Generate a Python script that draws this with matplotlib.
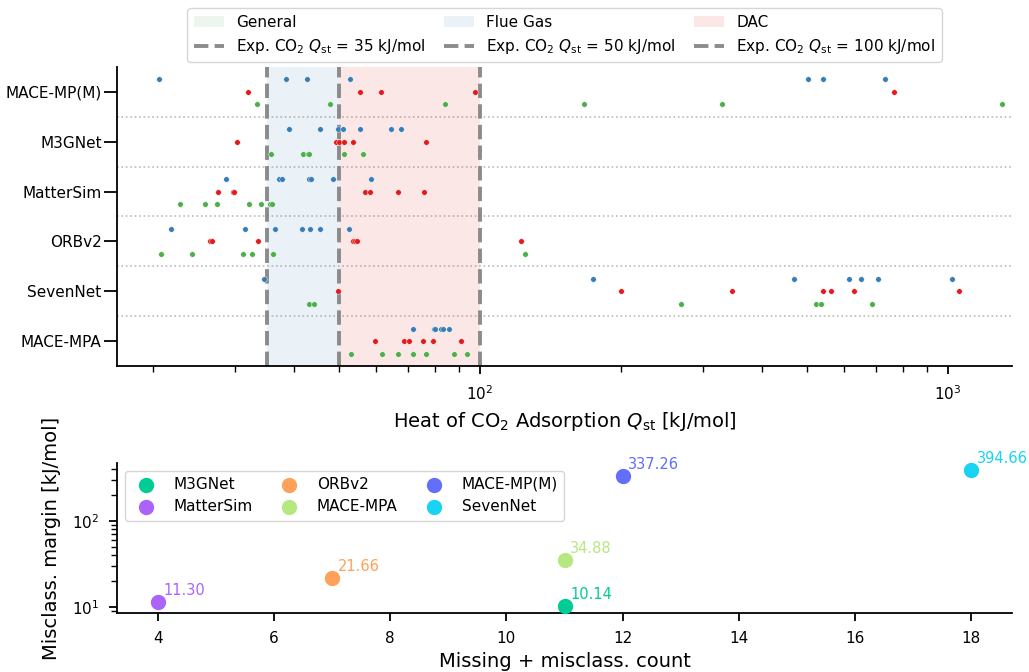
import numpy as np
import matplotlib.pyplot as plt
from matplotlib.patches import Patch
from matplotlib.lines import Line2D

# Models shown in the strip plot (top to bottom)
models = ["MACE-MP(M)", "M3GNet", "MatterSim", "ORBv2", "SevenNet", "MACE-MPA"]

# Predicted Qst [kJ/mol] per model, split by application group
qst_flue = [
    [20.6, 38.5, 42.7, 52.8, 502, 541, 733],
    [39.1, 45.6, 49.6, 51.0, 55.5, 64.5, 67.7],
    [28.7, 37.1, 37.7, 43.0, 43.6, 48.6, 58.5],
    [21.9, 31.4, 36.4, 41.7, 43.3, 45.4, 52.5],
    [34.6, 174.1, 468, 613, 651, 707, 1021],
    [71.8, 79.9, 80.1, 82.5, 83.5, 85.7],
]
qst_dac = [
    [31.9, 55.4, 61.4, 97.6, 766],
    [30.3, 49.3, 49.9, 51.3, 53.6, 76.8],
    [27.6, 29.6, 29.8, 56.9, 58.3, 66.9, 75.9],
    [26.5, 26.7, 33.5, 53.5, 54.1, 54.5, 122.2],
    [49.6, 200, 345, 541, 563, 630, 1057],
    [59.6, 68.7, 70.5, 75.6, 79.5, 91.1],
]
qst_general = [
    [33.4, 47.8, 84.2, 166.8, 328.9, 1304],
    [35.8, 41.8, 42.8, 43.0, 51.3, 56.2],
    [22.9, 25.9, 27.4, 32.1, 34.0, 35.5, 36.0],
    [20.8, 24.2, 31.2, 32.6, 36.1, 125.0],
    [43.0, 44.2, 269, 521, 535, 688],
    [53.1, 61.7, 66.7, 72.0, 76.6, 88.1, 93.7],
]
exp_qst = [35, 50, 100]

# Summary per model
sum_models = ["M3GNet", "MatterSim", "ORBv2", "MACE-MPA", "MACE-MP(M)", "SevenNet"]
miss_count = [11, 4, 7, 11, 12, 18]
margin = [10.14, 11.30, 21.66, 34.88, 337.26, 394.66]
sum_colors = ["#00CC96", "#AB63FA", "#FFA15A", "#B6E880", "#636EFA", "#19D3F3"]

c_flue, c_dac, c_gen = "#377eb8", "#e41a1c", "#4daf4a"

plt.rcParams["axes.linewidth"] = 1.3
plt.rcParams["xtick.major.width"] = 1.3
plt.rcParams["ytick.major.width"] = 1.3
plt.rcParams["xtick.minor.width"] = 1.0
plt.rcParams["ytick.minor.width"] = 1.0

fig = plt.figure(figsize=(10.29, 6.72), dpi=100)
ax1 = fig.add_axes([0.1137, 0.4554, 0.8698, 0.4449])
ax2 = fig.add_axes([0.1137, 0.0878, 0.8698, 0.2232])

# --- top: strip plot ---
ax1.axvspan(35, 50, color=c_flue, alpha=0.1, lw=0)
ax1.axvspan(50, 100, color=c_dac, alpha=0.1, lw=0)
for v in exp_qst:
    ax1.axvline(v, color="gray", ls="--", lw=2.8, alpha=0.9, zorder=1)

for i in range(len(models)):
    for vals, col, off in [(qst_flue[i], c_flue, -0.25), (qst_dac[i], c_dac, 0.0),
                           (qst_general[i], c_gen, 0.25)]:
        ax1.scatter(vals, np.full(len(vals), i + off), s=16, color=col,
                    edgecolors="white", linewidths=0.3, zorder=3)
for i in range(len(models) - 1):
    ax1.axhline(i + 0.5, color="#bbbbbb", ls=":", lw=1.2, zorder=0)

ax1.set_xscale("log")
ax1.set_xlim(16.76, 1370)
ax1.set_ylim(len(models) - 0.5, -0.5)
ax1.set_yticks(range(len(models)))
ax1.set_yticklabels(models, fontsize=11)
ax1.tick_params(axis="y", length=9.5, pad=1.5)
ax1.tick_params(axis="x", which="major", labelsize=11, length=6, pad=7)
ax1.tick_params(axis="x", which="minor", length=4)
ax1.set_xlabel(r"Heat of CO$_2$ Adsorption $Q_{\rm st}$ [kJ/mol]", fontsize=14, labelpad=5)
for s in ["top", "right"]:
    ax1.spines[s].set_visible(False)

handles = [
    Patch(facecolor=c_gen, alpha=0.1, label="General"),
    Line2D([], [], color="gray", ls="--", lw=2.8, alpha=0.9,
           label=r"Exp. CO$_2$ $Q_{\rm st}$ = 35 kJ/mol"),
    Patch(facecolor=c_flue, alpha=0.1, label="Flue Gas"),
    Line2D([], [], color="gray", ls="--", lw=2.8, alpha=0.9,
           label=r"Exp. CO$_2$ $Q_{\rm st}$ = 50 kJ/mol"),
    Patch(facecolor=c_dac, alpha=0.1, label="DAC"),
    Line2D([], [], color="gray", ls="--", lw=2.8, alpha=0.9,
           label=r"Exp. CO$_2$ $Q_{\rm st}$ = 100 kJ/mol"),
]
ax1.legend(handles=handles, ncol=3, loc="lower center", bbox_to_anchor=(0.5, 0.99),
           fontsize=11, frameon=True, columnspacing=1.17)

# --- bottom: margin vs count ---
for m, x, y, c in zip(sum_models, miss_count, margin, sum_colors):
    ax2.scatter(x, y, s=100, color=c, label=m, zorder=3)
    ax2.annotate(f"{y:.2f}", (x, y), xytext=(4, 3), textcoords="offset points",
                 color=c, fontsize=10.5, ha="left", va="bottom")
ax2.set_yscale("log")
ax2.set_xlabel("Missing + misclass. count", fontsize=14)
ax2.set_ylabel("Misclass. margin [kJ/mol]", fontsize=14, labelpad=8)
ax2.tick_params(which="major", labelsize=11, length=6, pad=7)
ax2.tick_params(which="minor", length=4)
for s in ["top", "right"]:
    ax2.spines[s].set_visible(False)
ax2.legend(ncol=3, loc="upper left", fontsize=11, frameon=True, columnspacing=1.4)

fig.savefig("out.png", dpi=100)
